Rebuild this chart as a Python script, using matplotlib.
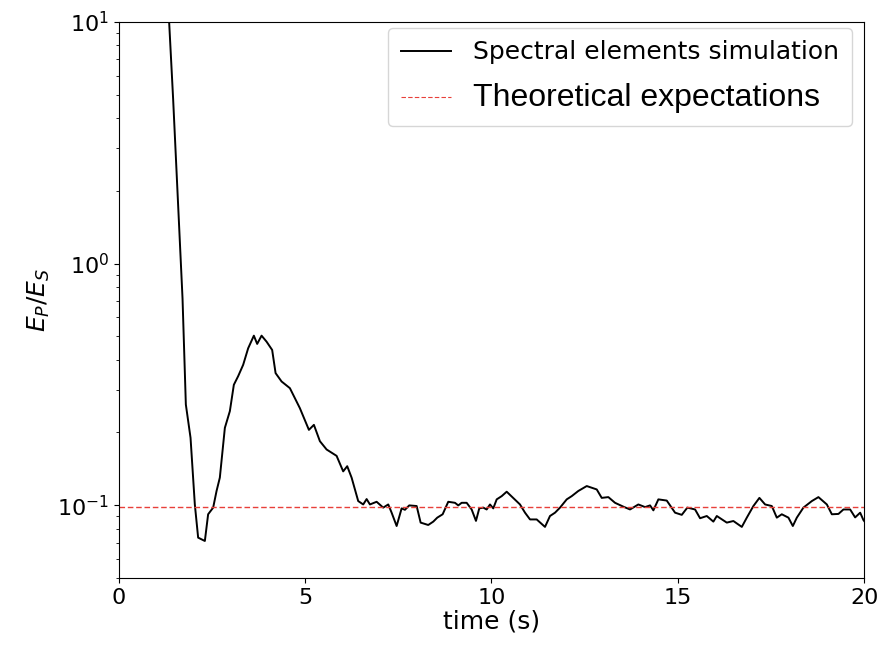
import matplotlib
matplotlib.use("Agg")
import matplotlib.pyplot as plt
import numpy as np

time_s = [1.30, 1.35, 1.458, 1.576, 1.71, 1.799, 1.925, 2.04, 2.129, 2.309, 2.397, 2.532, 2.623, 2.711,
          2.846, 2.98, 3.087, 3.203, 3.337, 3.471, 3.624, 3.713, 3.831, 3.965, 4.115, 4.207, 4.368,
          4.591, 4.859, 5.101, 5.235, 5.396, 5.576, 5.844, 6.021, 6.129, 6.247, 6.424, 6.558, 6.650,
          6.738, 6.918, 7.095, 7.230, 7.321, 7.455, 7.589, 7.678, 7.793, 7.992, 8.099, 8.303, 8.438,
          8.545, 8.690, 8.840, 9.020, 9.109, 9.200, 9.334, 9.468, 9.584, 9.672, 9.780, 9.871, 9.960,
          10.048, 10.140, 10.274, 10.408, 10.585, 10.765, 10.900, 11.034, 11.213, 11.436, 11.570,
          11.705, 11.839, 12.019, 12.153, 12.330, 12.556, 12.824, 12.958, 13.136, 13.315, 13.538,
          13.718, 13.941, 14.121, 14.255, 14.344, 14.478, 14.703, 14.926, 15.106, 15.256, 15.463,
          15.597, 15.777, 15.954, 16.046, 16.314, 16.491, 16.717, 16.851, 17.028, 17.189, 17.342,
          17.522, 17.656, 17.790, 17.968, 18.086, 18.193, 18.370, 18.596, 18.773, 18.999, 19.133,
          19.310, 19.444, 19.624, 19.758, 19.893, 19.980, 20.0]
energy_ratio = [12.0, 10.05, 4.79, 1.98, 0.717, 0.261, 0.190, 0.1007, 0.0734, 0.0711, 0.0917, 0.0977,
                0.1145, 0.130, 0.209, 0.245, 0.315, 0.342, 0.381, 0.446, 0.503, 0.465, 0.503, 0.475,
                0.439, 0.352, 0.325, 0.305, 0.252, 0.205, 0.215, 0.184, 0.170, 0.160, 0.138, 0.145,
                0.130, 0.104, 0.1007, 0.106, 0.1007, 0.1033, 0.0977, 0.1007, 0.0931, 0.0820, 0.097,
                0.0957, 0.0998, 0.0992, 0.0847, 0.0828, 0.0855, 0.0888, 0.0917, 0.1033, 0.1023,
                0.0998, 0.1023, 0.1023, 0.096, 0.0861, 0.097, 0.0977, 0.096, 0.1007, 0.097, 0.1057,
                0.109, 0.1137, 0.107, 0.1007, 0.0931, 0.0873, 0.0873, 0.0813, 0.0902, 0.0931, 0.0977,
                0.1057, 0.109, 0.1145, 0.120, 0.1162, 0.1072, 0.108, 0.1023, 0.0986, 0.096, 0.1007,
                0.0982, 0.0998, 0.0952, 0.1057, 0.1045, 0.0931, 0.0912, 0.0977, 0.096, 0.0883, 0.0902,
                0.0855, 0.0902, 0.0847, 0.086, 0.0813, 0.0888, 0.0992, 0.1072, 0.1007, 0.0992, 0.0888,
                0.0917, 0.0888, 0.082, 0.0888, 0.0977, 0.104, 0.108, 0.1007, 0.0917, 0.0920, 0.096,
                0.096, 0.089, 0.0931, 0.0868, 0.086]
theory_value = 0.098

fig = plt.figure(figsize=(8.8, 6.45), dpi=100)
ax = fig.add_axes([0.135, 0.104, 0.847, 0.862])
ax.plot(time_s, energy_ratio, color="black", lw=1.4, label="Spectral elements simulation")
ax.axhline(theory_value, color="#e8403a", lw=1.0, ls="--", dashes=(4, 2),
           label="Theoretical expectations")
ax.set_yscale("log")
ax.set_xlim(0, 20)
ax.set_ylim(0.05, 10)
ax.set_xticks([0, 5, 10, 15, 20])
ax.tick_params(axis="both", labelsize=16)
ax.set_xlabel("time (s)", fontsize=18, labelpad=1)
ax.set_ylabel("$E_P/E_S$", fontsize=18)
leg = ax.legend(loc="upper right", bbox_to_anchor=(1.0, 1.012), fontsize=18, handlelength=2.0,
                handletextpad=0.9, borderpad=0.5, labelspacing=0.75, framealpha=0.8)
leg.get_lines()[1].set_linewidth(0.8)
t2 = leg.get_texts()[1]
t2.set_fontsize(23)
t2.set_family("Liberation Sans")
fig.savefig("out.png", dpi=100)
